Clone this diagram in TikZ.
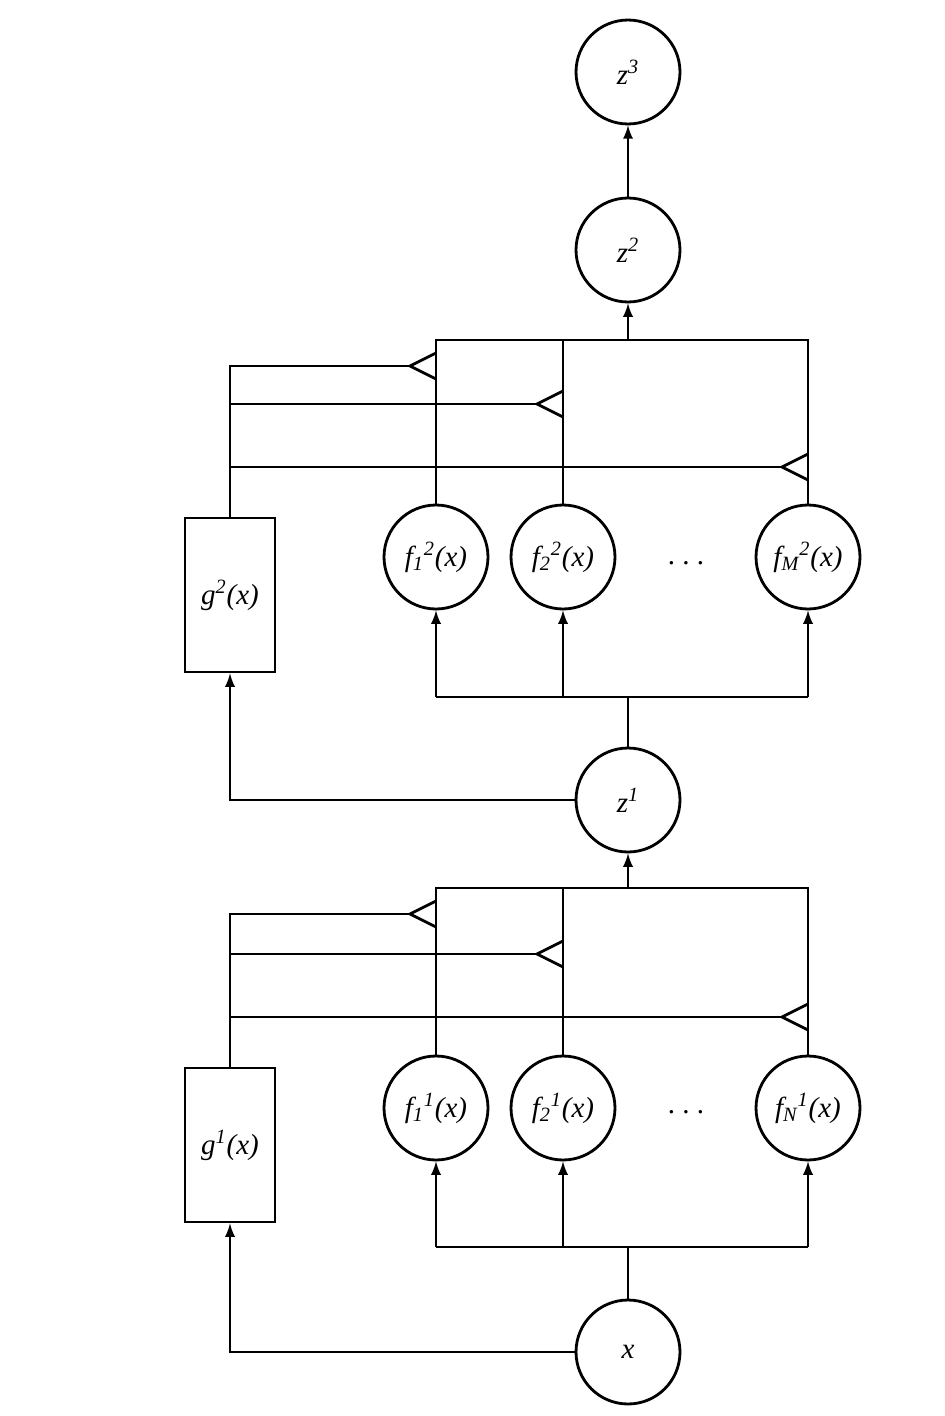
\documentclass[tikz,border=0pt]{standalone}
\usepackage{fontspec}
\setmainfont{Liberation Serif}
\usepackage{tikz}
\usetikzlibrary{positioning,calc,arrows}

\newcommand{\fu}[2]{\textit{f\textsubscript{#1}\textsuperscript{#2}(x)}}

\begin{document}
\begin{tikzpicture}[x=0.02cm,y=-0.02cm,>=latex,line width=1.6pt,
	font=\fontsize{16.5}{18}\selectfont,
	unit/.style={circle,draw,minimum size=2.08cm,inner sep=0pt},
	gbox/.style={rectangle,draw,minimum width=1.8cm,minimum height=3.08cm,inner sep=0pt}]
			\useasboundingbox (0,0) rectangle (944,1416);
			% outputs
			\node [unit] (z3) at (628,72) {\textit{z\textsuperscript{3}}};
			\node [unit] (z2) at (628,250) {\textit{z\textsuperscript{2}}};
			\node [unit] (z1) at (628,800) {\textit{z\textsuperscript{1}}};
			\node [unit] (x) at (628,1352) {\textit{x}};
			\draw[->] (z2) -- (z3);
			% layer 2
			\node [gbox] (g2) at (230,595) {\textit{g\textsuperscript{2}(x)}};
			\node [unit] (f21) at (436,557) {\fu{1}{2}};
			\node [unit] (f22) at (563,557) {\fu{2}{2}};
			\node [unit] (f2M) at (808,557) {\fu{M}{2}};
			\node (dots2) at (686,563) {.\ .\ .};
			\coordinate (top2) at (628,340);
			\coordinate (bot2) at (628,697);
			\coordinate (gl21) at (410,366);
			\coordinate (gl22) at (537,404);
			\coordinate (gl2M) at (782,467);
			\draw[->] (top2) -- (z2);
			\draw (f21) -- (f21 |- top2) -- (f2M |- top2) -- (f2M);
			\draw (f22) -- (f22 |- top2);
			\draw (g2) -- (g2 |- gl21) -- (gl21);
			\draw (g2 |- gl22) -- (gl22);
			\draw (g2 |- gl2M) -- (gl2M);
			\draw (gl21) ++(26,-13) -- (gl21) -- ++(26,13);
			\draw (gl22) ++(26,-13) -- (gl22) -- ++(26,13);
			\draw (gl2M) ++(26,-13) -- (gl2M) -- ++(26,13);
			\draw (z1) -- (bot2);
			\draw (f21 |- bot2) -- (f2M |- bot2);
			\draw[->] (f21 |- bot2) -- (f21);
			\draw[->] (f22 |- bot2) -- (f22);
			\draw[->] (f2M |- bot2) -- (f2M);
			\draw[->] (z1) -| (g2);
			% layer 1
			\node [gbox] (g1) at (230,1145) {\textit{g\textsuperscript{1}(x)}};
			\node [unit] (f11) at (436,1108) {\fu{1}{1}};
			\node [unit] (f12) at (563,1108) {\fu{2}{1}};
			\node [unit] (f1N) at (808,1108) {\fu{N}{1}};
			\node (dots1) at (686,1112) {.\ .\ .};
			\coordinate (top1) at (628,888);
			\coordinate (bot1) at (628,1247);
			\coordinate (gl11) at (410,914);
			\coordinate (gl12) at (537,954);
			\coordinate (gl1N) at (782,1017);
			\draw[->] (top1) -- (z1);
			\draw (f11) -- (f11 |- top1) -- (f1N |- top1) -- (f1N);
			\draw (f12) -- (f12 |- top1);
			\draw (g1) -- (g1 |- gl11) -- (gl11);
			\draw (g1 |- gl12) -- (gl12);
			\draw (g1 |- gl1N) -- (gl1N);
			\draw (gl11) ++(26,-13) -- (gl11) -- ++(26,13);
			\draw (gl12) ++(26,-13) -- (gl12) -- ++(26,13);
			\draw (gl1N) ++(26,-13) -- (gl1N) -- ++(26,13);
			\draw (x) -- (bot1);
			\draw (f11 |- bot1) -- (f1N |- bot1);
			\draw[->] (f11 |- bot1) -- (f11);
			\draw[->] (f12 |- bot1) -- (f12);
			\draw[->] (f1N |- bot1) -- (f1N);
			\draw[->] (x) -| (g1);
		\end{tikzpicture}
\end{document}
